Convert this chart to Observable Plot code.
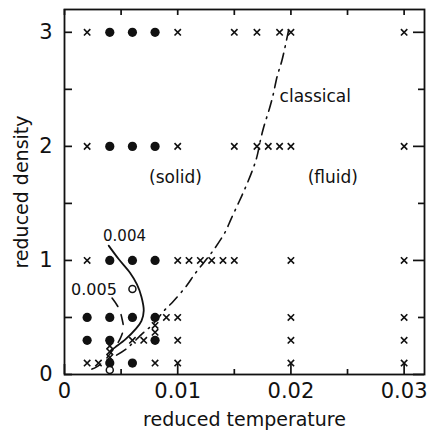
<!DOCTYPE html>
<html><head><meta charset="utf-8">
<script src="https://cdn.jsdelivr.net/npm/d3@7"></script>
<script src="https://cdn.jsdelivr.net/npm/@observablehq/plot@0.6"></script>
<style>
body{margin:0;background:#fff}
#chart svg{font-family:"DejaVu Sans",sans-serif;background:#fff}
</style>
</head><body><div id="chart"></div>
<script>
// ---- data (reduced temperature, reduced density) ----
const filledPoints = [[0.004,3],[0.006,3],[0.008,3],[0.004,2],[0.006,2],[0.008,2],[0.004,1],[0.006,1],[0.008,1],
  [0.002,0.5],[0.004,0.5],[0.006,0.5],[0.008,0.5],[0.002,0.3],[0.004,0.3],[0.008,0.3],[0.004,0.1],[0.006,0.1]];
const openPoints = [[0.006,0.75],[0.004,0.04]];
const crossPoints = [[0.002,3],[0.01,3],[0.015,3],[0.017,3],[0.019,3],[0.02,3],[0.03,3],
  [0.002,2],[0.01,2],[0.015,2],[0.017,2],[0.018,2],[0.019,2],[0.02,2],[0.03,2],
  [0.002,1],[0.01,1],[0.011,1],[0.012,1],[0.013,1],[0.014,1],[0.015,1],[0.02,1],[0.03,1],
  [0.009,0.5],[0.01,0.5],[0.02,0.5],[0.03,0.5],[0.008,0.43],[0.008,0.37],
  [0.006,0.3],[0.007,0.3],[0.01,0.3],[0.02,0.3],[0.03,0.3],
  [0.004,0.25],[0.004,0.2],[0.004,0.15],
  [0.002,0.1],[0.003,0.1],[0.008,0.1],[0.01,0.1],[0.02,0.1],[0.03,0.1]];
const curve004 = [[0.0039,1.13],[0.0048,1.01],[0.0058,0.89],[0.0064,0.79],[0.0068,0.68],[0.0070,0.56],
  [0.0068,0.47],[0.0063,0.40],[0.0054,0.31],[0.0045,0.24],[0.0041,0.21]];
const curve005 = [[0.0042,0.67],[0.0048,0.58],[0.0051,0.48],[0.0052,0.40],[0.0049,0.31],[0.0043,0.22],
  [0.0036,0.13],[0.0028,0.065],[0.0021,0.035]];
const classical = [[0.0046,0.17],[0.0054,0.22],[0.0069,0.36],[0.0078,0.44],[0.0088,0.56],[0.0096,0.64],
  [0.0108,0.78],[0.0115,0.88],[0.0127,1.03],[0.0133,1.11],[0.0142,1.25],[0.0147,1.36],[0.0154,1.51],
  [0.0159,1.62],[0.0166,1.79],[0.0170,1.91],[0.0173,2.05],[0.0176,2.17],[0.0181,2.33],[0.0184,2.44],
  [0.0188,2.62],[0.0192,2.75],[0.0198,3.02]];
const xMajor = [0, 0.01, 0.02, 0.03];
const xMajorLabels = ["0", "0.01", "0.02", "0.03"];
const xMinor = [0.005, 0.015, 0.025];
const yMajor = [0, 1, 2, 3];
const yMajorLabels = ["0", "1", "2", "3"];
const yMinor = [0.5, 1.5, 2.5];
const labelClassical = [{t: 0.0190, r: 2.44, text: "classical"}];
const labelPhases = [{t: 0.0098, r: 1.73, text: "(solid)"}, {t: 0.0237, r: 1.73, text: "(fluid)"}];
const label004 = [{t: 0.0053, r: 1.21, text: "0.004"}];
const label005 = [{t: 0.0026, r: 0.74, text: "0.005"}];
const xTitle = "reduced temperature";
const yTitle = "reduced density";

const toObj = a => a.map(([t, r]) => ({t, r}));
const ink = "#111";
const W = 429, H = 436, ML = 64, MR = 5, MT = 9, MB = 62;
const FW = W - ML - MR, FH = H - MT - MB;
const tk = {stroke: ink, strokeWidth: 1.7};

const plot = Plot.plot({
  width: W, height: H,
  marginLeft: ML, marginRight: MR, marginTop: MT, marginBottom: MB,
  x: {domain: [0, 0.0318], axis: null},
  y: {domain: [0, 3.2], axis: null},
  style: {color: ink, fontSize: "17px"},
  marks: [
    Plot.frame({stroke: ink, strokeWidth: 1.8}),
    // inward ticks on all four sides
    Plot.ruleX(xMajor, {x: d => d, insetTop: FH - 10, ...tk}),
    Plot.ruleX(xMinor, {x: d => d, insetTop: FH - 5, ...tk}),
    Plot.ruleX(xMajor.concat(xMinor), {x: d => d, insetBottom: FH - 6, ...tk}),
    Plot.ruleY(yMajor.concat(yMinor), {y: d => d, insetRight: FW - 8, ...tk}),
    Plot.ruleY(yMajor, {y: d => d, insetLeft: FW - 11, ...tk}),
    Plot.ruleY(yMinor, {y: d => d, insetLeft: FW - 6, ...tk}),
    // tick labels
    Plot.axisX(xMajor, {anchor: "bottom", tickSize: 0, tickPadding: 9, fontSize: 21, tickFormat: d => xMajorLabels[xMajor.indexOf(d)], label: null}),
    Plot.axisY(yMajor, {anchor: "left", tickSize: 0, tickPadding: 12, fontSize: 21, tickFormat: d => yMajorLabels[yMajor.indexOf(d)], label: null}),
    Plot.text([xTitle], {frameAnchor: "bottom", textAnchor: "middle", dy: 51, fontSize: 19, text: d => d, style: "letter-spacing:1.5px"}),
    Plot.text([yTitle], {frameAnchor: "left", textAnchor: "middle", rotate: -90, dx: -43, fontSize: 19, text: d => d, style: "letter-spacing:1.2px"}),
    // curves
    Plot.line(toObj(classical), {x: "t", y: "r", stroke: ink, strokeWidth: 1.6, strokeDasharray: "11,6,1.5,6", curve: "catmull-rom"}),
    Plot.line(toObj(curve005), {x: "t", y: "r", stroke: ink, strokeWidth: 1.6, strokeDasharray: "10,9", curve: "catmull-rom"}),
    Plot.line(toObj(curve004), {x: "t", y: "r", stroke: ink, strokeWidth: 1.8, curve: "catmull-rom"}),
    // points
    Plot.dot(toObj(crossPoints), {x: "t", y: "r", symbol: "times", r: 3, stroke: ink, strokeWidth: 1.6}),
    Plot.dot(toObj(filledPoints), {x: "t", y: "r", r: 4.6, fill: ink, stroke: "none"}),
    Plot.dot(toObj(openPoints), {x: "t", y: "r", r: 3.5, fill: "white", stroke: ink, strokeWidth: 1.5}),
    // annotations
    Plot.text(labelClassical, {x: "t", y: "r", text: "text", textAnchor: "start", fontSize: 17, fill: ink}),
    Plot.text(labelPhases, {x: "t", y: "r", text: "text", textAnchor: "middle", fontSize: 17, fill: ink}),
    Plot.text(label004, {x: "t", y: "r", text: "text", textAnchor: "middle", fontSize: 15, fill: ink}),
    Plot.text(label005, {x: "t", y: "r", text: "text", textAnchor: "middle", fontSize: 16, fill: ink})
  ]
});
document.getElementById("chart").appendChild(plot);
</script>
</body></html>
